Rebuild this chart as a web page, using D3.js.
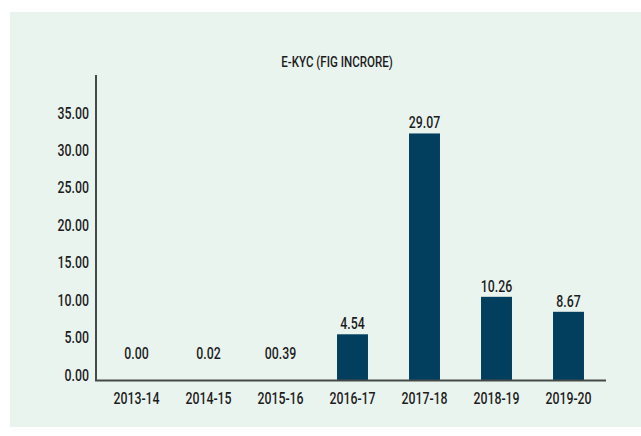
<!DOCTYPE html>
<html>
<head>
<meta charset="utf-8">
<script src="https://cdn.jsdelivr.net/npm/d3@7/dist/d3.min.js"></script>
<style>
  html, body { margin: 0; padding: 0; background: #ffffff; }
  svg { display: block; }
  text { font-family: Roboto, "DejaVu Sans Condensed", sans-serif; fill: #1c1c1c; font-weight: 500; }
</style>
</head>
<body>
<svg id="chart" width="641" height="436"></svg>
<script>
// ---- data ----
const title = "E-KYC (FIG INCRORE)";
const categories = ["2013-14", "2014-15", "2015-16", "2016-17", "2017-18", "2018-19", "2019-20"];
// bar heights as drawn in the picture (axis units)
const barValues = [0, 0, 0, 6.1, 32.9, 11.1, 9.1];
// value labels as printed above the bars
const valueLabels = ["0.00", "0.02", "00.39", "4.54", "29.07", "10.26", "8.67"];
const yTicks = [0, 5, 10, 15, 20, 25, 30, 35];
const yAxisTop = 40.7;

// ---- layout ----
const W = 641, H = 436;
const axisX = 96, axisY = 380, topY = 75;
const condense = 0.77;
const fs = "16px";
const svg = d3.select("#chart");

svg.append("rect").attr("x", 10).attr("y", 12).attr("width", W - 10).attr("height", 415)
  .attr("fill", "#eaf4ef");

const x = d3.scaleBand().domain(categories).range([100.5, 604.5])
  .paddingInner(0.57).paddingOuter(0.285);
const y = d3.scaleLinear().domain([0, yAxisTop]).range([axisY, topY]);

// title
svg.append("text").attr("x", 337).attr("y", 67).attr("text-anchor", "middle")
  .style("font-size", "15px").text(title);

// bars
svg.selectAll("rect.bar").data(barValues).enter().append("rect")
  .attr("class", "bar")
  .attr("x", (d, i) => x(categories[i]))
  .attr("width", x.bandwidth())
  .attr("y", d => y(d))
  .attr("height", d => y(0) - y(d))
  .attr("fill", "#023f5e");

// value labels
svg.selectAll("text.val").data(barValues).enter().append("text")
  .attr("class", "val")
  .attr("x", (d, i) => x(categories[i]) + x.bandwidth() / 2)
  .attr("y", d => y(Math.max(d, 2.2)) - 5)
  .attr("text-anchor", "middle")
  .style("font-size", fs)
  .text((d, i) => valueLabels[i]);

// y axis
const yAxis = d3.axisLeft(y).tickValues(yTicks).tickSize(0).tickPadding(7)
  .tickFormat(d3.format(".2f"));
const gy = svg.append("g").attr("transform", `translate(${axisX},0)`).call(yAxis);
gy.select(".domain").remove();
gy.attr("font-family", null).attr("font-size", null);
gy.selectAll("text").style("font-size", fs).attr("dy", "0.02em").attr("fill", "#1c1c1c");

// x axis
const xAxis = d3.axisBottom(x).tickSize(0).tickPadding(13);
const gx = svg.append("g").attr("transform", `translate(0,${axisY})`).call(xAxis);
gx.select(".domain").remove();
gx.attr("font-family", null).attr("font-size", null);
gx.selectAll("text").style("font-size", fs).attr("fill", "#1c1c1c");

// axis lines
svg.append("line").attr("x1", axisX).attr("x2", axisX).attr("y1", topY).attr("y2", axisY + 1)
  .attr("stroke", "#454a48").attr("stroke-width", 2);
svg.append("line").attr("x1", axisX - 1).attr("x2", 606).attr("y1", axisY + 0.5).attr("y2", axisY + 0.5)
  .attr("stroke", "#454a48").attr("stroke-width", 2);

// condensed look: squeeze every text horizontally
svg.selectAll("text").each(function () {
  const len = this.getComputedTextLength();
  d3.select(this).attr("textLength", len * condense).attr("lengthAdjust", "spacingAndGlyphs");
});
</script>
</body>
</html>
